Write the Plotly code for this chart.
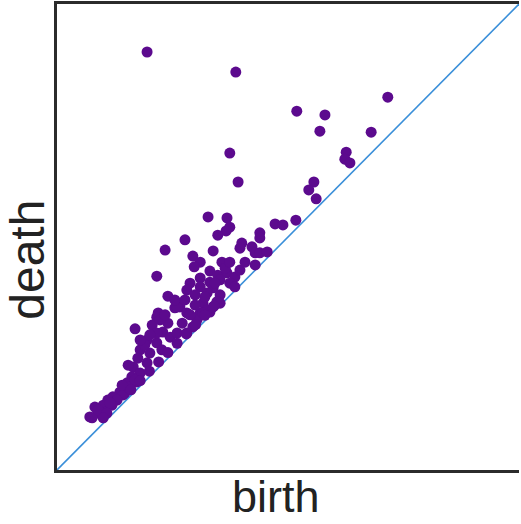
import plotly.graph_objects as go

birth = [0.195, 0.387, 0.519, 0.580, 0.569, 0.716, 0.680, 0.374, 0.392, 0.626,
         0.623, 0.634, 0.556, 0.545, 0.561, 0.327, 0.368, 0.374, 0.366, 0.348,
         0.472, 0.489, 0.517, 0.277, 0.234, 0.439, 0.439, 0.400, 0.396, 0.422,
         0.429, 0.439, 0.455, 0.429, 0.338, 0.294, 0.310, 0.297, 0.357, 0.216,
         0.331, 0.348, 0.368, 0.385, 0.310, 0.288, 0.331, 0.353, 0.374, 0.281,
         0.310, 0.338, 0.385, 0.299, 0.325, 0.353, 0.240, 0.266, 0.255, 0.316,
         0.346, 0.331, 0.219, 0.216, 0.281, 0.310, 0.169, 0.206, 0.240, 0.229,
         0.271, 0.294, 0.303, 0.325, 0.353, 0.288, 0.195, 0.216, 0.245, 0.260,
         0.216, 0.281, 0.180, 0.201, 0.227, 0.175, 0.195, 0.165, 0.180, 0.162,
         0.173, 0.152, 0.158, 0.136, 0.143, 0.121, 0.130, 0.110, 0.100, 0.119,
         0.082, 0.089, 0.071, 0.104, 0.076, 0.089, 0.108, 0.115, 0.147, 0.154,
         0.169, 0.100, 0.338, 0.260, 0.316,
         0.190, 0.201, 0.223, 0.234, 0.255, 0.277, 0.299, 0.320, 0.342, 0.364,
         0.396, 0.407, 0.374, 0.154, 0.141, 0.180,
         0.160, 0.180, 0.200, 0.220, 0.240, 0.260, 0.280, 0.300, 0.320, 0.340]
death = [0.897, 0.854, 0.770, 0.762, 0.727, 0.800, 0.725, 0.680, 0.618, 0.682,
         0.667, 0.659, 0.618, 0.601, 0.582, 0.543, 0.541, 0.521, 0.513, 0.504,
         0.528, 0.526, 0.536, 0.494, 0.472, 0.509, 0.498, 0.487, 0.476, 0.479,
         0.466, 0.466, 0.468, 0.440, 0.470, 0.459, 0.446, 0.436, 0.446, 0.416,
         0.427, 0.418, 0.423, 0.414, 0.412, 0.401, 0.403, 0.408, 0.401, 0.386,
         0.393, 0.391, 0.393, 0.376, 0.380, 0.376, 0.373, 0.350, 0.348, 0.358,
         0.361, 0.339, 0.337, 0.328, 0.337, 0.337, 0.303, 0.311, 0.315, 0.296,
         0.315, 0.307, 0.322, 0.343, 0.358, 0.333, 0.279, 0.273, 0.285, 0.294,
         0.294, 0.294, 0.258, 0.251, 0.258, 0.240, 0.230, 0.221, 0.208, 0.200,
         0.189, 0.187, 0.176, 0.167, 0.161, 0.157, 0.150, 0.150, 0.139, 0.139,
         0.135, 0.122, 0.114, 0.124, 0.112, 0.129, 0.122, 0.144, 0.165, 0.178,
         0.193, 0.112, 0.350, 0.350, 0.337,
         0.268, 0.290, 0.322, 0.333, 0.365, 0.365, 0.354, 0.371, 0.401, 0.433,
         0.429, 0.446, 0.446, 0.225, 0.182, 0.279,
         0.172, 0.192, 0.212, 0.232, 0.252, 0.272, 0.292, 0.312, 0.332, 0.352]

diag = [0, 1]

fig = go.Figure()
fig.add_trace(go.Scatter(x=diag, y=diag, mode="lines",
                         line=dict(color="#3a8fd9", width=1.6),
                         hoverinfo="skip", showlegend=False))
fig.add_trace(go.Scatter(x=birth, y=death, mode="markers",
                         marker=dict(color="#5c0a8e", size=11, line=dict(width=0)),
                         showlegend=False))

fig.update_layout(
    width=521, height=524,
    margin=dict(l=57, r=2, t=4, b=54),
    paper_bgcolor="white", plot_bgcolor="white",
    xaxis=dict(range=[0, 1], showgrid=False, zeroline=False, showticklabels=False,
               ticks="", showline=True, linecolor="#2b2b2b", linewidth=3, mirror=True),
    yaxis=dict(range=[0, 1], showgrid=False, zeroline=False, showticklabels=False,
               ticks="", showline=True, linecolor="#2b2b2b", linewidth=3, mirror=False),
    annotations=[
        dict(text="birth", xref="paper", yref="paper", x=0.474, y=-0.056,
             xanchor="center", yanchor="middle", showarrow=False,
             font=dict(family="Liberation Sans, Arial", size=45, color="#222222")),
        dict(text="death", xref="paper", yref="paper", x=-0.063, y=0.451,
             xanchor="center", yanchor="middle", showarrow=False, textangle=-90,
             font=dict(family="Liberation Sans, Arial", size=48, color="#222222")),
    ],
)

fig.write_html("out.html", config={"displayModeBar": False},
               post_script="document.body.style.margin='0';document.body.style.overflow='hidden';")
